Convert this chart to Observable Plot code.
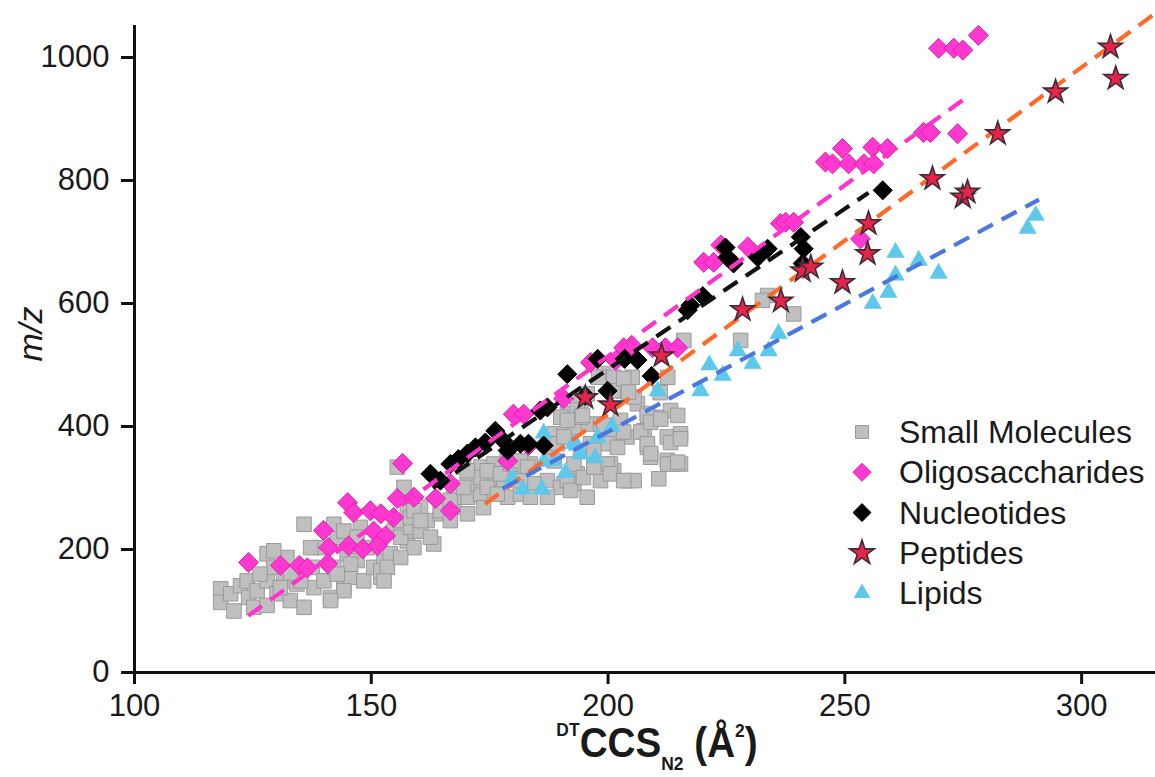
<!DOCTYPE html>
<html><head><meta charset="utf-8">
<script src="https://cdn.jsdelivr.net/npm/d3@7"></script>
<script src="https://cdn.jsdelivr.net/npm/@observablehq/plot@0.6"></script>
<style>
body{margin:0;background:#fff;}
#chart{position:relative;width:1155px;height:777px;}
</style></head><body><div id="chart"></div>
<script>
// ---- data (x = DTCCS_N2 in Å², y = m/z) ----
const smallMolecules = [
[118.2,136],[118.2,114],[120.3,128],[121,100],[122.4,141],[123.8,149],[124.1,122],[125.9,133],[125.2,106],[128,149],
[128,193],[129.4,171],[130.1,128],[131.5,149],[132.2,187],[132.9,117],[134.3,144],[135.8,106],[135.8,241],[137.5,171],
[137.9,138],[139.3,203],[140,149],[141.4,122],[142.1,171],[142.8,220],[144.2,138],[144.9,193],[145.6,155],[147,182],
[147.7,236],[148.4,149],[149.1,203],[150.5,171],[152,155],[152.7,182],[154,193],[137.2,203],[142.1,241],[144.2,230],
[147,220],[152,165],[154.8,230],[156.2,247],[157.6,214],[159,230],[156.9,301],[155.5,334],[159,203],[157.6,268],
[145.6,176],[142.8,160],[144.2,133],[141.4,117],[135.1,149],[130.8,138],[128,109],[129.4,198],[126.5,160],[133,162],
[163.2,209],[156.2,220],[153.4,171],[152.7,149],[161.8,247],[164.6,258],[167.4,269],[160.4,269],[158.3,236],[170.3,285],
[173.1,290],[175.9,296],[171.7,312],[175.2,317],[178,312],[178.8,285],[169.5,334],[173.1,334],[180.8,317],[181.5,290],
[183.6,339],[187.2,312],[187.9,366],[188.6,388],[191.4,421],[194.2,437],[195.6,404],[190.7,307],[193.5,323],[200.5,399],
[201.2,388],[202.6,410],[203.3,458],[206.2,437],[208.3,421],[208.3,366],[209,350],[212.5,383],[212.5,345],[213.9,339],
[215.3,388],[215.3,339],[204,312],[205.5,312],[201.2,328],[195.6,453],[156.2,187],[216,540],[205.1,480],[199.1,486],
[193.5,427],[204,383],[205.5,448],[211.1,415],[213.2,426],[207.6,393],[200.5,339],[228,540],[233.7,613],[239.2,583],
[212.6,480],[198,480],[201.2,480],[158.3,252],[160.4,230],[162.5,220],[167.4,285],[170.3,307],[173.1,317],[170.3,328],
[175.9,339],[178.7,345],[190,301],[192.8,307],[195.6,285],[198.4,312],[199.8,339],[190,415],[198.4,404],[192.8,339],
[201.2,458],[159,263],[164.6,263],[166.7,280],[169.5,301],[174.5,328],[174.5,301],[177.3,323],[179.4,339],[176.6,290],
[173.7,268],[181.5,344],[183,334],[184.3,307],[188.6,344],[189.3,372],[190.7,388],[192.8,399],[194.2,415],[191.4,410],
[191.4,312],[192.1,296],[194.8,317],[197,334],[187.2,285],[183.6,285],[181.5,312],[170.3,258],[166.7,247],[160.4,247],
[194.2,361],[196.3,372],[190.7,383],[194.6,418],[199.1,402],[200.5,380],[203.3,391],[203.3,478],[204.3,456],[206.9,391],
[208.3,418],[209,407],[211.1,412],[214.7,418],[213.2,374],[215.3,380],[208.3,372],[209,356],[212.6,339],[214.7,342],
[199.9,372],[202,366],[200.5,323],[203.3,312],[197,361],[211,455],[210.7,315],[232.6,605]
];
const oligosaccharides = [
[124.1,179],[130.8,174],[134.8,174],[136.5,170],[139.9,231],[141,203],[140.8,177],[145,276],[146.3,260],[149.8,263],
[152,258],[145.2,206],[148.2,201],[150.5,230],[153,222],[151.3,206],[154.7,252],[155.5,283],[156.6,340],[159,285],
[163.6,283],[166.7,263],[166.7,307],[180,420],[182.2,420],[178.8,344],[183.2,369],[190.6,445],[196.3,504],[201.6,507],
[203.3,528],[205,532],[209.4,528],[212.1,528],[214.7,528],[220.2,667],[222.3,667],[223.8,695],[229.5,692],[236.4,730],
[237.5,732],[239.2,732],[253.3,705],[245.9,830],[247.4,827],[249.5,852],[250.8,827],[254,827],[255.9,854],[256.1,827],
[259,852],[266.6,878],[268.1,878],[273.8,876],[269.8,1015],[273,1015],[274.9,1012],[278.2,1036]
];
const nucleotides = [
[162.5,323],[164.6,312],[166.7,339],[168.4,347],[170.3,356],[172,366],[174.1,374],[176.2,393],[177.9,377],[178.8,361],
[181.5,372],[183.2,372],[186.4,369],[185.7,426],[187.2,431],[191.4,485],[195.2,450],[199.9,458],[197.8,510],[203.5,510],
[206.2,508],[209.2,482],[216.8,589],[217.4,597],[220,612],[225.2,675],[226.5,665],[224.8,691],[231.6,675],[233.7,689],
[240.7,708],[241.3,689],[241.1,665],[258,784]
];
const peptides = [
[195.2,447],[200.5,435],[211.3,515],[228.4,590],[236.5,604],[241.1,653],[242.8,659],[249.5,634],[254.8,681],[255,730],
[268.5,803],[274.9,773],[275.9,781],[282.3,876],[294.5,944],[306.1,1017],[307.2,966]
];
const lipids = [
[186.4,389],[179.8,316],[182,298],[186,298],[186.4,343],[188.6,345],[191,325],[193.4,369],[194.2,355],[197.3,349],
[197.8,382],[192.7,372],[200.8,400],[210.5,458],[219.5,458],[221.4,500],[224.2,483],[227.4,523],[230.5,502],[233.9,523],
[236,551],[255.9,600],[259.2,618],[260.7,646],[260.7,683],[265.6,670],[269.8,649],[288.6,722],[290.3,743]
];
// linear fit lines (start / end points)
const fitSeries = ["Oligosaccharides","Nucleotides","Peptides","Lipids"];
const fitX1 = [124, 163, 174, 177.7];
const fitY1 = [92, 300, 274, 299];
const fitX2 = [275.5, 255, 315.6, 291];
const fitY2 = [934, 780, 1072, 769];

const xTicks = [100,150,200,250,300];
const yTicks = [0,200,400,600,800,1000];
const legendLabels = ["Small Molecules","Oligosaccharides","Nucleotides","Peptides","Lipids"];

// ---- styles ----
const C = {
  small: {fill:"#bfbfbf", stroke:"#9a9a9a"},
  oligo: {fill:"#ff38d0", stroke:"#d81fae"},
  nuc: {fill:"#000000", stroke:"#000000"},
  pep: {fill:"#e8234a", stroke:"#3b2d36"},
  lip: {fill:"#5ec8ea", stroke:"#5ec8ea"}
};
const lineColors = {Oligosaccharides:"#ff33cc", Nucleotides:"#111111", Peptides:"#ff6a2b", Lipids:"#4a78e0"};

const rows = a => a.map(([x,y]) => ({x,y}));
const fits = fitSeries.map((s,i) => ({s, x1:fitX1[i], y1:fitY1[i], x2:fitX2[i], y2:fitY2[i]}));

const font = "'Liberation Sans', Arial, Helvetica, sans-serif";

const plot = Plot.plot({
  width:1155, height:777,
  marginLeft:134, marginRight:0, marginTop:25, marginBottom:105,
  x:{domain:[100,315.6]},
  y:{domain:[0,1052]},
  style:{fontFamily:font, fontSize:"31px", color:"#1a1a1a", background:"white", overflow:"visible"},
  marks:[
    Plot.dot(rows(smallMolecules), {x:"x", y:"y", symbol:"square", r:8.2, fill:C.small.fill, stroke:C.small.stroke, strokeWidth:1}),
    Plot.dot(rows(lipids), {x:"x", y:"y", symbol:"triangle", r:6.5, fill:C.lip.fill, stroke:C.lip.stroke, strokeWidth:0.5}),
    Plot.dot(rows(oligosaccharides), {x:"x", y:"y", symbol:"diamond2", r:9, fill:C.oligo.fill, stroke:C.oligo.stroke, strokeWidth:1}),
    Plot.dot(rows(nucleotides), {x:"x", y:"y", symbol:"diamond2", r:8.6, fill:C.nuc.fill, stroke:C.nuc.stroke, strokeWidth:1}),
    ...fits.map(f => Plot.link([f], {x1:"x1", y1:"y1", x2:"x2", y2:"y2", stroke:lineColors[f.s], strokeWidth:4.2, strokeDasharray:"17,10", strokeLinecap:"butt"})),
    Plot.dot(rows(peptides), {x:"x", y:"y", symbol:"star", r:7.4, fill:C.pep.fill, stroke:C.pep.stroke, strokeWidth:1.6}),
    Plot.ruleY([0], {strokeWidth:3, stroke:"#111"}),
    Plot.ruleX([100], {strokeWidth:3, stroke:"#111"}),
    Plot.axisX({ticks:xTicks, tickFormat:"d", tickSize:12, tickPadding:9, strokeWidth:3, stroke:"#111", label:null}),
    Plot.axisY({ticks:yTicks, tickFormat:"d", tickSize:13, tickPadding:12, strokeWidth:3, stroke:"#111", label:null})
  ]
});
document.getElementById("chart").appendChild(plot);

const svg = d3.select(plot);
// y axis label
svg.append("text")
  .attr("transform","translate(42,334) rotate(-90)")
  .attr("text-anchor","middle")
  .attr("font-family", font).attr("font-style","italic").attr("font-size", 34).attr("fill","#1a1a1a")
  .text("m/z");
// x axis label with super/subscripts (slightly condensed like the original)
const xl = svg.append("text")
  .attr("transform","translate(657,757) scale(0.92,1)")
  .attr("x", 0).attr("y", 0).attr("text-anchor","middle")
  .attr("font-family", font).attr("font-weight","bold").attr("fill","#1a1a1a");
xl.append("tspan").attr("font-size",19).attr("dy",-21).text("DT");
xl.append("tspan").attr("font-size",42).attr("dy",21).text("CCS");
xl.append("tspan").attr("font-size",19).attr("dy",13).text("N2");
xl.append("tspan").attr("font-size",42).attr("dy",-13).text(" (Å");
xl.append("tspan").attr("font-size",19).attr("dy",-20).text("2");
xl.append("tspan").attr("font-size",42).attr("dy",20).text(")");

// legend
const legendSym = [
  {type:d3.symbolSquare, size:169, ...C.small},
  {type:d3.symbolDiamond2, size:206, ...C.oligo},
  {type:d3.symbolDiamond2, size:206, ...C.nuc},
  {type:d3.symbolStar, size:190, ...C.pep},
  {type:d3.symbolTriangle, size:100, ...C.lip}
];
const lg = svg.append("g").attr("transform","translate(862,432)");
legendLabels.forEach((lab,i) => {
  const g = lg.append("g").attr("transform",`translate(0,${i*40.3})`);
  g.append("path").attr("d", d3.symbol().type(legendSym[i].type).size(legendSym[i].size)())
    .attr("fill", legendSym[i].fill).attr("stroke", legendSym[i].stroke).attr("stroke-width", i===3?1.6:1);
  g.append("text").attr("x",37).attr("y",11).attr("text-anchor","start")
    .attr("font-family",font).attr("font-size",32).attr("fill","#1a1a1a").text(lab);
});
</script></body></html>
